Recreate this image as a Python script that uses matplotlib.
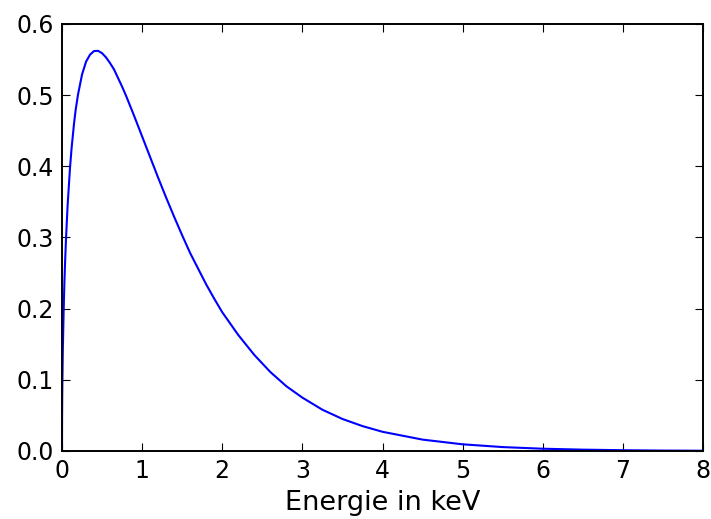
import matplotlib
matplotlib.use('Agg')
import matplotlib.pyplot as plt
import numpy as np

# Values
energie = [0.0, 0.001, 0.003, 0.005, 0.01, 0.02, 0.03, 0.04, 0.05, 0.07,
           0.1, 0.12, 0.15, 0.17, 0.2, 0.25, 0.3, 0.35, 0.4, 0.45, 0.5,
           0.55, 0.6, 0.65, 0.7, 0.75, 0.8, 0.9, 1.0, 1.1, 1.2, 1.3, 1.4,
           1.5, 1.6, 1.7, 1.8, 1.9, 2.0, 2.2, 2.4, 2.6, 2.8, 3.0, 3.25,
           3.5, 3.75, 4.0, 4.5, 5.0, 5.5, 6.0, 6.5, 7.0, 7.5, 8.0]
spektrum = [0.0, 0.045, 0.078, 0.099, 0.140, 0.195, 0.237, 0.270, 0.298,
            0.345, 0.398, 0.426, 0.460, 0.479, 0.501, 0.529, 0.547, 0.557,
            0.562, 0.5623, 0.559, 0.553, 0.545, 0.536, 0.524, 0.512, 0.499,
            0.471, 0.442, 0.413, 0.384, 0.356, 0.329, 0.303, 0.278, 0.256,
            0.234, 0.214, 0.195, 0.163, 0.135, 0.111, 0.091, 0.075, 0.058,
            0.045, 0.035, 0.027, 0.016, 0.0094, 0.0055, 0.0032, 0.0019,
            0.0011, 0.0006, 0.0004]

xticks = [0, 1, 2, 3, 4, 5, 6, 7, 8]
yticks = [0.0, 0.1, 0.2, 0.3, 0.4, 0.5, 0.6]

fig = plt.figure(figsize=(7.11, 5.19), dpi=100)
ax = fig.add_axes([62/711, 68/519, 641/711, 427/519])

ax.plot(energie, spektrum, color='b', linewidth=1.5)

ax.set_xlim(0, 8)
ax.set_ylim(0, 0.6)
ax.set_xticks(xticks)
ax.set_yticks(yticks)
ax.set_yticklabels(['%.1f' % v for v in yticks])
ax.tick_params(direction='in', top=True, right=True, length=5.5,
               width=0.8, labelsize=17, pad=6)
for sp in ax.spines.values():
    sp.set_linewidth(1.4)

ax.set_xlabel('Energie in keV', fontsize=19.5, labelpad=5)

fig.savefig('out.png', dpi=100)
